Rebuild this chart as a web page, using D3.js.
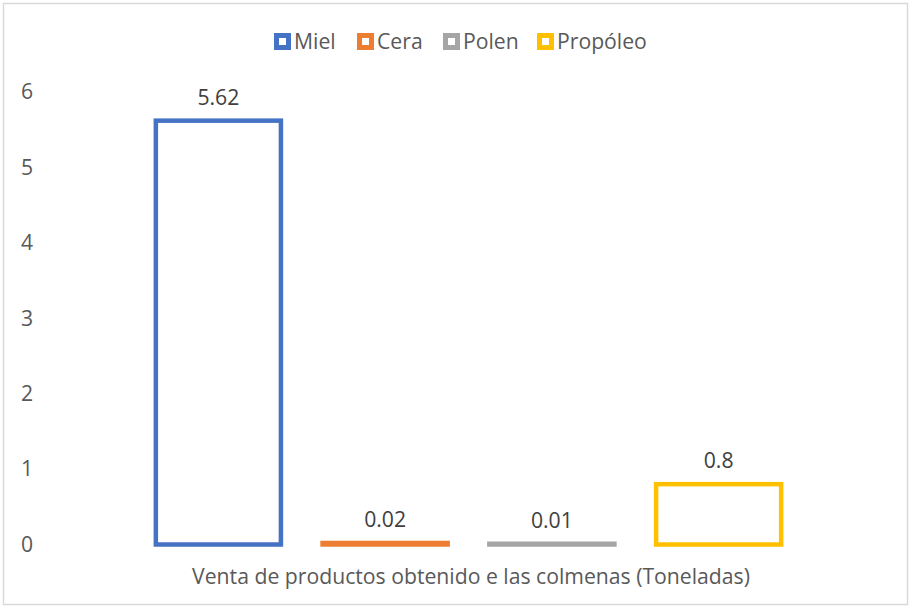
<!DOCTYPE html>
<html>
<head>
<meta charset="utf-8">
<script src="https://cdn.jsdelivr.net/npm/d3@7"></script>
<style>
  html, body { margin: 0; padding: 0; background: #fff; }
  svg { display: block; font-family: "Open Sans", sans-serif; }
</style>
</head>
<body>
<svg id="chart" width="911" height="608"></svg>
<script>
// Product sales from the hives, in tonnes
const series = ["Miel", "Cera", "Polen", "Propóleo"];
const values = [5.62, 0.02, 0.01, 0.8];
const colors = ["#4472C4", "#ED7D31", "#A5A5A5", "#FFC000"];
const yTicks = [0, 1, 2, 3, 4, 5, 6];
const axisTitle = "Venta de productos obtenido e las colmenas (Toneladas)";

const W = 911, H = 608;
const FONT = "'Open Sans', sans-serif";
const FS = "21.2px";
const svg = d3.select("#chart");

// outer chart frame
svg.append("rect")
  .attr("x", 3.5).attr("y", 3.5)
  .attr("width", W - 7).attr("height", H - 7)
  .attr("fill", "#fff")
  .attr("stroke", "#d9d9d9").attr("stroke-width", 1.5);

const plot = { left: 135, right: 802, top: 92, bottom: 544.5 };

const x = d3.scaleBand()
  .domain(series)
  .range([plot.left, plot.right])
  .paddingInner(0.25)
  .paddingOuter(0.125);

const y = d3.scaleLinear()
  .domain([0, 6])
  .range([plot.bottom, plot.top]);

// y-axis labels only (no axis line, no gridlines)
const yAxis = d3.axisLeft(y).tickValues(yTicks).tickFormat(d3.format("d")).tickSize(0).tickPadding(0);
const yg = svg.append("g")
  .attr("transform", "translate(33,0)")
  .call(yAxis);
yg.select(".domain").remove();
yg.selectAll("text")
  .attr("fill", "#595959")
  .style("font-size", FS)
  .style("font-family", FONT);

// outlined bars
const sw = 4.5;
svg.append("g").selectAll("rect")
  .data(series)
  .join("rect")
  .attr("x", d => x(d))
  .attr("width", x.bandwidth())
  .attr("y", (d, i) => y(values[i]))
  .attr("height", (d, i) => y(0) - y(values[i]))
  .attr("fill", "#fff")
  .attr("stroke", (d, i) => colors[i])
  .attr("stroke-width", sw);

// value labels
svg.append("g").selectAll("text")
  .data(series)
  .join("text")
  .attr("x", d => x(d) + x.bandwidth() / 2)
  .attr("y", (d, i) => y(values[i]) - 16)
  .attr("text-anchor", "middle")
  .attr("fill", "#404040")
  .style("font-size", FS)
  .text((d, i) => String(values[i]));

// category axis title
svg.append("text")
  .attr("x", 471)
  .attr("y", 584)
  .attr("text-anchor", "middle")
  .attr("fill", "#595959")
  .style("font-size", FS)
  .text(axisTitle);

// legend
const legendX = [274, 357, 443, 537];
const lg = svg.append("g").selectAll("g")
  .data(series)
  .join("g")
  .attr("transform", (d, i) => `translate(${legendX[i]},33)`);
lg.append("rect")
  .attr("x", 2.5).attr("y", 2.5)
  .attr("width", 12).attr("height", 12)
  .attr("fill", "#fff")
  .attr("stroke", (d, i) => colors[i])
  .attr("stroke-width", 5);
lg.append("text")
  .attr("x", 20)
  .attr("y", 15.5)
  .attr("fill", "#595959")
  .style("font-size", FS)
  .text(d => d);
</script>
</body>
</html>
